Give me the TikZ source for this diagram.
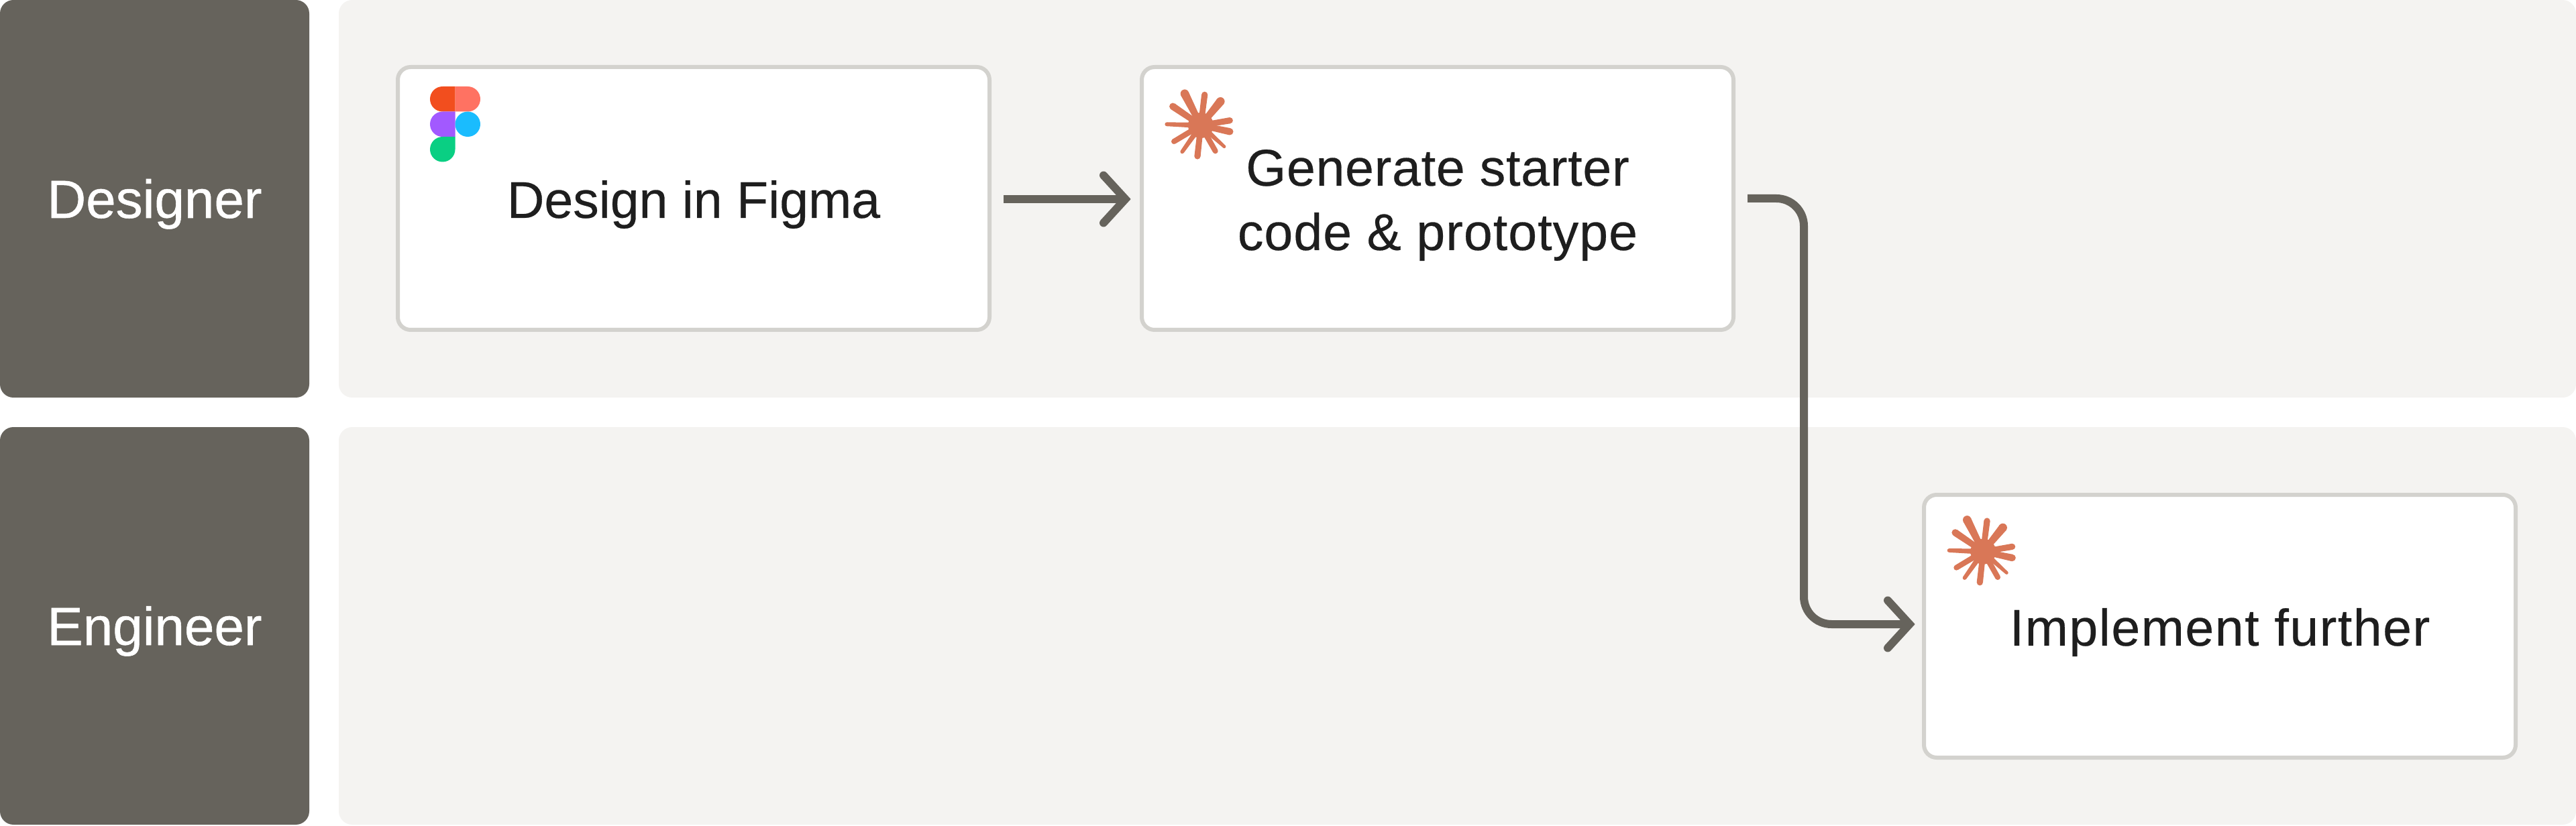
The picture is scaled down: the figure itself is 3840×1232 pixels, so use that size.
\documentclass[tikz,border=0pt]{standalone}
\usepackage{fontspec}
\setmainfont{Liberation Sans}
\newfontfamily\boxfont[FakeBold=0.35]{Liberation Sans}
\newfontfamily\lanefont[FakeBold=0.7]{Liberation Sans}
\usetikzlibrary{arrows.meta}
\definecolor{lanebg}{HTML}{F4F3F1}
\definecolor{lanelabel}{HTML}{66635C}
\definecolor{boxline}{HTML}{D3D2CE}
\definecolor{inktext}{HTML}{1E1E1E}
\definecolor{sparkcol}{HTML}{D97757}
\definecolor{figred}{HTML}{F24E1E}
\definecolor{figpink}{HTML}{FF7262}
\definecolor{figpurple}{HTML}{A259FF}
\definecolor{figblue}{HTML}{1ABCFE}
\definecolor{figgreen}{HTML}{0ACF83}
\pgfdeclarearrow{
  name=FlatBarb,
  setup code={%
    \pgfarrowssettipend{0pt}%
    \pgfarrowssetlineend{-0.85mm}%
    \pgfarrowssetbackend{-4.7mm}%
    \pgfarrowssetvisualbackend{-4.1mm}%
  },
  drawing code={%
    \pgfsetdash{}{0pt}%
    \pgfsetlinewidth{1.2mm}%
    \pgfsetroundcap
    \pgfsetmiterjoin
    \pgfpathmoveto{\pgfqpoint{-4.1mm}{3.55mm}}%
    \pgfpathlineto{\pgfqpoint{-0.85mm}{0pt}}%
    \pgfpathlineto{\pgfqpoint{-4.1mm}{-3.55mm}}%
    \pgfusepathqstroke
  }
}
\tikzset{
  lanehead/.style={fill=lanelabel,rounded corners=2mm,inner sep=0pt,minimum width=46.1mm,minimum height=59.3mm,text=white,
    text height=5.7mm,text depth=0pt,
    font=\lanefont\fontsize{8mm}{9.6mm}\selectfont},
  lanepanel/.style={fill=lanebg,rounded corners=2mm,inner sep=0pt,minimum width=333.5mm,minimum height=59.3mm},
  stepbox/.style={draw=boxline,line width=0.6mm,fill=white,rounded corners=1.9mm,inner sep=0pt,outer sep=0pt,
    minimum width=88.2mm,minimum height=39.2mm},
  steptext/.style={text=inktext,align=center,inner sep=0pt,
    font=\boxfont\fontsize{7.7mm}{9.6mm}\selectfont},
  flow/.style={draw=lanelabel,line width=1.2mm,-{FlatBarb}},
  sparkfill/.style={fill=sparkcol,draw=none}
}
\newcommand{\sparkle}[1]{%
  \begin{scope}[shift={(#1)}]
    \fill[sparkfill] (0,0) circle[radius=19];
    \foreach \dx/\dy/\rr in {-24/-47.3/6.3,5.7/-45.7/4.6,29.3/-35.7/6.3,43.3/-7.3/4.6,43.3/9.3/5.2,35/31.7/2.4,
      21.7/38.3/4,-5/46/4.6,-27.7/39.3/2.9,-40/24/4,-50.7/-1.7/2.9,-41.7/-28.3/5.2}{
      \pgfmathsetmacro\ln{veclen(\dx,\dy)}
      \pgfmathsetmacro\ux{-\dy/\ln}
      \pgfmathsetmacro\uy{\dx/\ln}
      \fill[sparkfill] ({\ux*4.2},{\uy*4.2}) -- ({\dx+\ux*\rr},{\dy+\uy*\rr}) -- ({\dx-\ux*\rr},{\dy-\uy*\rr}) -- ({-\ux*4.2},{-\uy*4.2}) -- cycle;
      \fill[sparkfill] (\dx,\dy) circle[radius=\rr];
    }
  \end{scope}}
\begin{document}
\begin{tikzpicture}[x=0.1mm,y=-0.1mm]
\useasboundingbox (0,0) rectangle (3840,1232);
\node[lanehead] (designer) at (230.5,296.5) {Designer};
\node[lanehead] (engineer) at (230.5,933.5) {Engineer};
\node[lanepanel] (designerlane) at (2172.5,296.5) {};
\node[lanepanel] (engineerlane) at (2172.5,933.5) {};
\node[stepbox] (figma) at (1034,296) {};
\node[stepbox] (starter) at (2143,296) {};
\node[stepbox] (implement) at (3309,934) {};
\node[steptext] (figmatext) at (1034,305) {Design in Figma};
\node[steptext] (startertext) at (2143,306) {{\addfontfeature{LetterSpace=1}Generate starter}\\{\addfontfeature{LetterSpace=1.4}code \& prototype}};
\node[steptext] (implementtext) at (3309,943) {\addfontfeature{LetterSpace=2}Implement further};
\coordinate (elbow) at (2689,615);
\draw[flow,shorten <=2.1mm,shorten >=1.6mm] ([yshift=-0.1mm]figma.east) -- ([yshift=-0.1mm]starter.west);
\draw[flow,rounded corners=4.1mm,shorten <=2.1mm,shorten >=1.3mm]
  (starter.east) -| (elbow) |- ([yshift=0.3mm]implement.west);
% Figma logo
\fill[figred] (678.5,129) [rounded corners=1.875mm] -- (641,129) -- (641,166.5) [sharp corners] -- (678.5,166.5) -- cycle;
\fill[figpink] (678.5,129) [rounded corners=1.875mm] -- (716,129) -- (716,166.5) [sharp corners] -- (678.5,166.5) -- cycle;
\fill[figpurple] (678.5,166.5) [rounded corners=1.875mm] -- (641,166.5) -- (641,204) [sharp corners] -- (678.5,204) -- cycle;
\fill[figblue] (697.25,185.25) circle[radius=18.75];
\fill[figgreen] (678.5,204) [rounded corners=1.875mm] -- (641,204) -- (641,241.5) -- (678.5,241.5) [sharp corners] -- cycle;
\sparkle{1790,187}
\sparkle{2956.3,822.7}
\end{tikzpicture}
\end{document}
